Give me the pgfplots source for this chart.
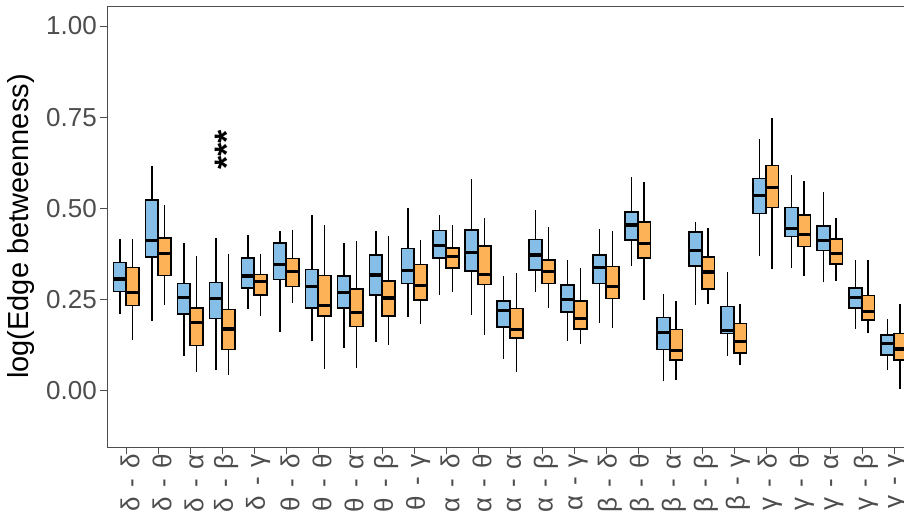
\documentclass[border=0pt]{standalone}
\usepackage{fontspec}
\setmainfont{Liberation Sans}
\usepackage{pgfplots}
\pgfplotsset{compat=1.18}
\usepgfplotslibrary{statistics}
\definecolor{bblue}{RGB}{133,190,230}
\definecolor{borange}{RGB}{253,178,87}
\definecolor{tickgrey}{RGB}{77,77,77}
\newcommand{\bx}[7]{%
  \addplot[black, line width=1.7pt, forget plot] coordinates {(#1,#2) (#1,#6)};
  \addplot[draw=black, fill=#7, line width=1.5pt,
    boxplot/draw direction=y,
    boxplot prepared={draw position=#1, lower whisker=#2, lower quartile=#3,
      median=#4, upper quartile=#5, upper whisker=#6,
      box extend=0.4, whisker extend=0}] coordinates {};}
\newcommand{\lb}[2]{#1\hspace{0.38em}-\hspace{0.38em}#2}
\begin{document}
\begin{tikzpicture}
\path[use as bounding box] (-107pt,-78pt) rectangle (797pt,447pt);
\clip (-107pt,-78pt) rectangle (797pt,447pt);
\begin{axis}[
  at={(0pt,0pt)}, anchor=south west,
  scale only axis,
  width=806pt, height=441pt,
  xmin=-0.6, xmax=24.6,
  ymin=-0.155, ymax=1.055,
  axis line style={draw=tickgrey, line width=0.6pt},
  tick style={draw=tickgrey, line width=0.6pt},
  tick align=outside,
  major tick length=7pt,
  xtick pos=left, ytick pos=left,
  xtick={0,...,24},
  xticklabels={\lb{δ}{δ},\lb{δ}{θ},\lb{δ}{α},\lb{δ}{β},\lb{δ}{γ},\lb{θ}{δ},\lb{θ}{θ},\lb{θ}{α},\lb{θ}{β},\lb{θ}{γ},\lb{α}{δ},\lb{α}{θ},\lb{α}{α},\lb{α}{β},\lb{α}{γ},\lb{β}{δ},\lb{β}{θ},\lb{β}{α},\lb{β}{β},\lb{β}{γ},\lb{γ}{δ},\lb{γ}{θ},\lb{γ}{α},\lb{γ}{β},\lb{γ}{γ}},
  xticklabel style={rotate=90, anchor=east, inner sep=0pt, yshift=-4pt, text=tickgrey, font=\fontsize{26}{30}\selectfont},
  ytick={0,0.25,0.5,0.75,1},
  yticklabels={0.00,0.25,0.50,0.75,1.00},
  yticklabel style={anchor=east, inner sep=0pt, xshift=-3pt, text=tickgrey, font=\fontsize{26}{30}\selectfont},
  ylabel={log(Edge betweenness)},
  ylabel style={at={(axis description cs:-0.107,0.5)}, anchor=center, font=\fontsize{29}{34}\selectfont, text=black},
  /pgf/number format/assume math mode=true,
  boxplot/every box/.style={line width=1.5pt, draw=black},
  boxplot/every median/.style={line width=3.2pt, draw=black},
  boxplot/draw/lower whisker/.code={},
  boxplot/draw/upper whisker/.code={},
  clip=false,
]
\bx{-0.2}{0.210}{0.271}{0.306}{0.351}{0.416}{bblue}
\bx{0.2}{0.139}{0.233}{0.269}{0.338}{0.416}{borange}
\bx{0.8}{0.191}{0.367}{0.412}{0.523}{0.617}{bblue}
\bx{1.2}{0.235}{0.315}{0.376}{0.418}{0.509}{borange}
\bx{1.8}{0.095}{0.210}{0.256}{0.294}{0.404}{bblue}
\bx{2.2}{0.052}{0.123}{0.187}{0.227}{0.368}{borange}
\bx{2.8}{0.057}{0.198}{0.253}{0.296}{0.418}{bblue}
\bx{3.2}{0.043}{0.112}{0.169}{0.222}{0.374}{borange}
\bx{3.8}{0.224}{0.281}{0.314}{0.363}{0.428}{bblue}
\bx{4.2}{0.204}{0.262}{0.298}{0.318}{0.375}{borange}
\bx{4.8}{0.161}{0.304}{0.345}{0.405}{0.437}{bblue}
\bx{5.2}{0.241}{0.285}{0.327}{0.362}{0.440}{borange}
\bx{5.8}{0.135}{0.226}{0.286}{0.332}{0.482}{bblue}
\bx{6.2}{0.059}{0.204}{0.234}{0.316}{0.453}{borange}
\bx{6.8}{0.116}{0.226}{0.270}{0.314}{0.404}{bblue}
\bx{7.2}{0.063}{0.175}{0.213}{0.278}{0.409}{borange}
\bx{7.8}{0.134}{0.262}{0.317}{0.372}{0.438}{bblue}
\bx{8.2}{0.125}{0.204}{0.254}{0.301}{0.423}{borange}
\bx{8.8}{0.202}{0.293}{0.329}{0.390}{0.502}{bblue}
\bx{9.2}{0.183}{0.248}{0.288}{0.346}{0.414}{borange}
\bx{9.8}{0.263}{0.363}{0.397}{0.439}{0.481}{bblue}
\bx{10.2}{0.270}{0.336}{0.368}{0.391}{0.455}{borange}
\bx{10.8}{0.208}{0.328}{0.379}{0.441}{0.581}{bblue}
\bx{11.2}{0.153}{0.291}{0.318}{0.397}{0.472}{borange}
\bx{11.8}{0.087}{0.174}{0.220}{0.246}{0.315}{bblue}
\bx{12.2}{0.050}{0.144}{0.167}{0.225}{0.322}{borange}
\bx{12.8}{0.271}{0.331}{0.372}{0.415}{0.494}{bblue}
\bx{13.2}{0.227}{0.294}{0.327}{0.358}{0.448}{borange}
\bx{13.8}{0.136}{0.216}{0.250}{0.290}{0.359}{bblue}
\bx{14.2}{0.128}{0.169}{0.197}{0.246}{0.337}{borange}
\bx{14.8}{0.186}{0.294}{0.338}{0.372}{0.442}{bblue}
\bx{15.2}{0.171}{0.253}{0.285}{0.340}{0.438}{borange}
\bx{15.8}{0.342}{0.413}{0.454}{0.490}{0.586}{bblue}
\bx{16.2}{0.249}{0.363}{0.404}{0.463}{0.573}{borange}
\bx{16.8}{0.026}{0.112}{0.159}{0.200}{0.265}{bblue}
\bx{17.2}{0.029}{0.084}{0.110}{0.167}{0.245}{borange}
\bx{17.8}{0.235}{0.342}{0.384}{0.435}{0.463}{bblue}
\bx{18.2}{0.236}{0.279}{0.325}{0.367}{0.446}{borange}
\bx{18.8}{0.096}{0.157}{0.165}{0.231}{0.324}{bblue}
\bx{19.2}{0.071}{0.103}{0.135}{0.184}{0.238}{borange}
\bx{19.8}{0.370}{0.486}{0.536}{0.582}{0.690}{bblue}
\bx{20.2}{0.333}{0.502}{0.556}{0.617}{0.747}{borange}
\bx{20.8}{0.335}{0.422}{0.444}{0.502}{0.590}{bblue}
\bx{21.2}{0.315}{0.395}{0.427}{0.481}{0.575}{borange}
\bx{21.8}{0.297}{0.384}{0.411}{0.452}{0.545}{bblue}
\bx{22.2}{0.300}{0.347}{0.376}{0.416}{0.473}{borange}
\bx{22.8}{0.169}{0.227}{0.255}{0.281}{0.357}{bblue}
\bx{23.2}{0.157}{0.193}{0.217}{0.260}{0.357}{borange}
\bx{23.8}{0.057}{0.098}{0.129}{0.152}{0.196}{bblue}
\bx{24.2}{0.005}{0.084}{0.114}{0.157}{0.236}{borange}
\node[xshift=5pt, rotate=90, font=\fontsize{34}{38}\selectfont\bfseries, inner sep=0pt] at (axis cs:3,0.66) {***};
\end{axis}
\end{tikzpicture}
\end{document}
